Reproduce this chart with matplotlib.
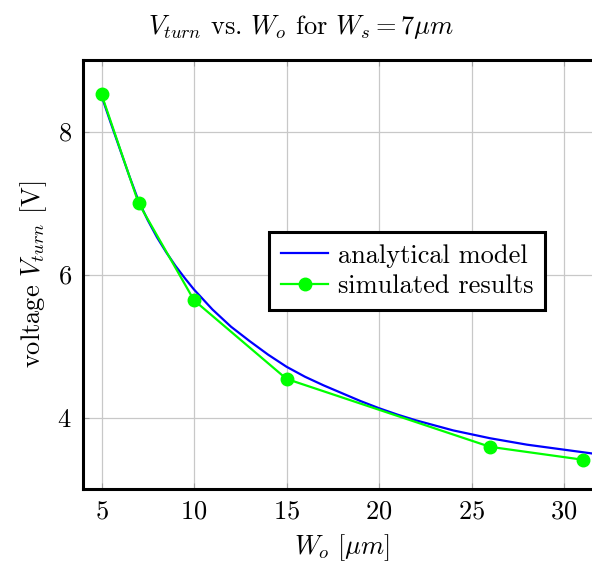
import numpy as np
import matplotlib
matplotlib.use("Agg")
import matplotlib.pyplot as plt

plt.rcParams['font.family'] = 'serif'
plt.rcParams['font.serif'] = ['cmr10']
plt.rcParams['mathtext.fontset'] = 'cm'
plt.rcParams['axes.formatter.use_mathtext'] = True

# analytical model
model_w = [5, 5.5, 6, 6.5, 7, 7.5, 8, 8.5, 9, 9.5, 10, 11, 12, 13, 14, 15, 16,
           17, 18, 19, 20, 21, 22, 24, 26, 28, 30, 32]
model_v = [8.50, 8.12, 7.75, 7.38, 7.03, 6.76, 6.52, 6.31, 6.12, 5.95, 5.79,
           5.51, 5.27, 5.07, 4.88, 4.71, 4.57, 4.45, 4.34, 4.23, 4.13, 4.04,
           3.96, 3.82, 3.71, 3.62, 3.55, 3.48]

# simulated results
sim_w = [5, 7, 10, 15, 26, 31]
sim_v = [8.52, 7.00, 5.64, 4.54, 3.59, 3.41]

xticks = [5, 10, 15, 20, 25, 30]
yticks = [4, 6, 8]

fig = plt.figure(figsize=(5.92, 5.68), dpi=100)
ax = fig.add_axes([83 / 592, 79 / 568, 518 / 592, 429 / 568])

ax.plot(model_w, model_v, color='#0000ff', lw=1.6, label='analytical model')
ax.plot(sim_w, sim_v, color='#00ff00', lw=1.6, marker='o', markersize=9,
        label='simulated results')

ax.set_xlim(4.0, 32.0)
ax.set_ylim(3.0, 9.0)
ax.set_xticks(xticks)
ax.set_yticks(yticks)
ax.grid(True, color='#c8c8c8', lw=0.9)
ax.set_axisbelow(True)
ax.tick_params(direction='in', length=4, color='#a0a0a0', labelsize=19,
               top=True, right=True, pad=8)
for s in ax.spines.values():
    s.set_linewidth(2.2)

ax.set_xlabel(r'$W_o\ [\mu m]$', fontsize=19, labelpad=6)
ax.set_ylabel(r'voltage $V_{turn}$ [V]', fontsize=19, labelpad=6)

fig.text(301 / 592, 1 - 27 / 568, r'$V_{turn}$ vs. $W_o$ for $W_s = 7\mu m$',
         fontsize=19, ha='center', va='center')

leg = ax.legend(loc='upper left', bbox_to_anchor=(0.359, 0.599), fontsize=19,
                fancybox=False, framealpha=1, edgecolor='black',
                borderaxespad=0, handlelength=1.8, handletextpad=0.35,
                borderpad=0.45, labelspacing=0.25)
leg.get_frame().set_linewidth(2.2)

fig.savefig('out.png', dpi=100)
